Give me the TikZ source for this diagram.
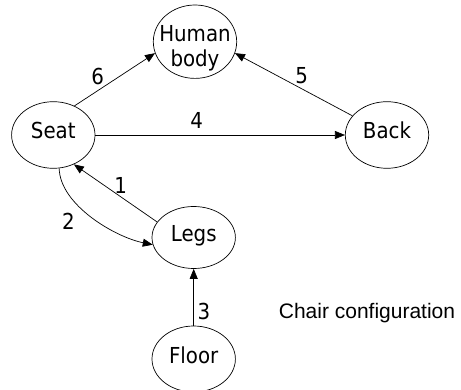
\documentclass[tikz,border=0pt]{standalone}
\usepackage{fontspec}
\setmainfont{Liberation Sans}
\newfontfamily\labelfont{DejaVu Sans Condensed}
\usetikzlibrary{arrows.meta,shapes.geometric}
\begin{document}
\begin{tikzpicture}[x=1pt,y=-1pt,
  part/.style={draw, ellipse, line width=0.7pt, minimum width=83.4pt,
    minimum height=66.6pt, inner sep=0pt,
    font=\labelfont\fontsize{22}{25}\selectfont,
    text height=16pt, text depth=8pt},
  link/.style={draw, line width=0.7pt, -{Triangle[length=10pt,width=8pt]}},
  num/.style={font=\labelfont\fontsize{22}{25}\selectfont, inner sep=0pt}]
\useasboundingbox (0,0) rectangle (461,390);

% parts of the chair
\node[part] (seat) at (53.3,135) {Seat};
\node[part] (back) at (387,135) {Back};
\node[part, minimum height=73.4pt] (human) at (195,41.7) {};
\node[num, anchor=base] (humanA) at (195,41.5) {Human};
\node[num, anchor=base] (humanB) at (195,66.5) {body};
\node[part, minimum height=62pt] (legs) at (193.7,237.5) {Legs};
\node[part, minimum height=66pt] (floor) at (193.7,359) {Floor};
\node[font=\fontsize{21}{25}\selectfont, inner sep=0pt] (caption) at (367,313) {Chair configuration};

% load paths
\draw[link] (seat.54) -- (human.196);
\draw[link] (back.151) -- (human.344);
\draw[link] (seat.east) -- (back.west);
\draw[link] (legs.157) -- (seat.305);
\draw[link] (seat.280) .. controls (60,205) and (115,237) .. (legs.190);
\draw[link] (floor.north) -- (legs.south);

% path numbers
\node[num] (n6) at (97.7,76) {6};
\node[num] (n5) at (301.7,76) {5};
\node[num] (n4) at (196.7,120.7) {4};
\node[num] (n1) at (120.7,185) {1};
\node[num] (n2) at (68.3,221.7) {2};
\node[num] (n3) at (204,311.7) {3};
\end{tikzpicture}
\end{document}
